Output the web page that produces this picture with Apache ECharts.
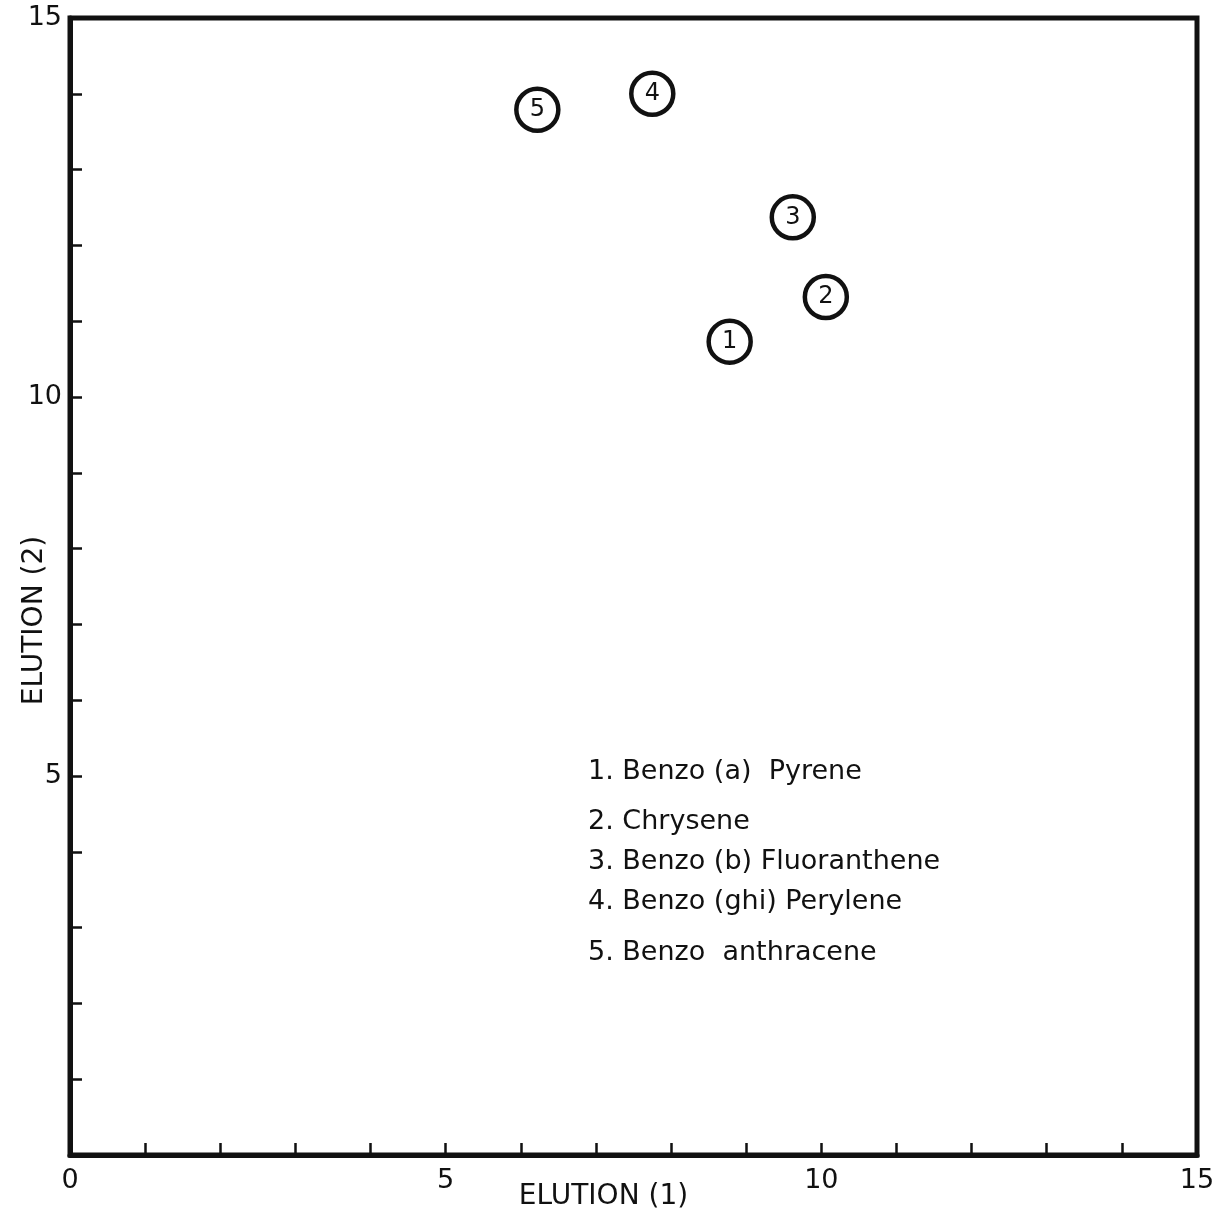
<!DOCTYPE html>
<html>
<head>
<meta charset="utf-8">
<style>
  html, body { margin: 0; padding: 0; background: #fff; }
  #chart { width: 1216px; height: 1216px; }
</style>
<script src="https://cdn.jsdelivr.net/npm/echarts@6/dist/echarts.min.js"></script>
</head>
<body>
<div id="chart"></div>
<script>
// Compound numbers and their elution positions in the two runs
const compoundIds = ['1', '2', '3', '4', '5'];
const elution1 = [8.78, 10.06, 9.62, 7.75, 6.22];
const elution2 = [10.73, 11.32, 12.37, 14.0, 13.79];

// Key listing the compounds
const compoundNames = [
  '1. Benzo (a)  Pyrene',
  '2. Chrysene',
  '3. Benzo (b) Fluoranthene',
  '4. Benzo (ghi) Perylene',
  '5. Benzo  anthracene'
];

// Axis range and labelled ticks
const axisMin = 0;
const axisMax = 15;
const tickStep = 1;
const labelledTicks = [0, 5, 10, 15];

const FONT = '"DejaVu Sans", "Liberation Sans", sans-serif';
const INK = '#111';

const points = compoundIds.map((id, i) => [elution1[i], elution2[i], id]);

const keyTops = [758, 808, 848, 888, 939];

const chart = echarts.init(document.getElementById('chart'));

function tickLabel(v) {
  return labelledTicks.indexOf(v) >= 0 ? String(v) : '';
}

chart.setOption({
  backgroundColor: '#fff',
  animation: false,
  grid: {
    left: 70, right: 19, top: 18, bottom: 61,
    containLabel: false, outerBoundsMode: 'none',
    show: true, borderColor: INK, borderWidth: 5
  },
  xAxis: {
    type: 'value', min: axisMin, max: axisMax, interval: tickStep,
    name: 'ELUTION (1)', nameLocation: 'middle', nameGap: 28, nameMoveOverlap: false,
    nameTextStyle: { fontFamily: FONT, fontSize: 28, color: INK, padding: [0, 60, 0, 0] },
    axisLine: { show: true, lineStyle: { color: INK, width: 5 } },
    axisTick: { show: true, inside: true, length: 12, lineStyle: { color: INK, width: 2.5 } },
    axisLabel: { formatter: tickLabel, fontFamily: FONT, fontSize: 27, color: INK, margin: 12, showMinLabel: true, showMaxLabel: true },
    splitLine: { show: false }
  },
  yAxis: {
    type: 'value', min: axisMin, max: axisMax, interval: tickStep,
    name: 'ELUTION (2)', nameLocation: 'middle', nameGap: 21, nameRotate: 90, nameMoveOverlap: false,
    nameTextStyle: { fontFamily: FONT, fontSize: 28, color: INK, padding: [0, 68, 0, 0] },
    axisLine: { show: true, lineStyle: { color: INK, width: 5 } },
    axisTick: { show: true, inside: true, length: 12, lineStyle: { color: INK, width: 2.5 } },
    axisLabel: { formatter: tickLabel, fontFamily: FONT, fontSize: 27, color: INK, margin: 8, showMinLabel: false, showMaxLabel: true },
    splitLine: { show: false }
  },
  series: [{
    type: 'scatter',
    data: points,
    symbol: 'circle',
    symbolSize: 42,
    itemStyle: { color: '#fff', borderColor: INK, borderWidth: 4.5, opacity: 1 },
    label: {
      show: true, position: 'inside',
      formatter: p => p.data[2],
      fontFamily: FONT, fontSize: 24, color: INK
    },
    z: 5
  }],
  graphic: compoundNames.map((t, i) => ({
    type: 'text',
    left: 588,
    top: keyTops[i],
    style: { text: t, font: '27px ' + FONT, fill: INK }
  }))
});
</script>
</body>
</html>
